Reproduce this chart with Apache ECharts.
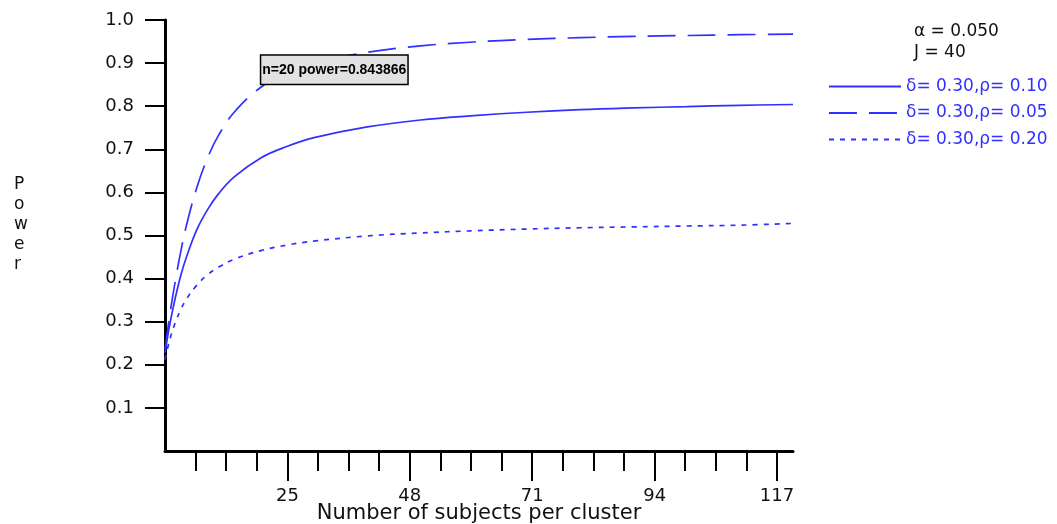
<!DOCTYPE html>
<html>
<head>
<meta charset="utf-8">
<title>Power vs number of subjects per cluster</title>
<script src="https://cdn.jsdelivr.net/npm/echarts@6/dist/echarts.min.js"></script>
<style>
  html, body { margin: 0; padding: 0; background: #fff; }
  #main { width: 1057px; height: 524px; }
</style>
</head>
<body>
<div id="main"></div>
<script>
// subjects per cluster (n)
var clusterSize = [2, 3, 4, 5, 6, 8, 10, 12, 15, 20, 25, 30, 40, 50, 60, 70, 80, 90, 100, 110, 120];
// power
var powerRho10 = [0.228, 0.300, 0.359, 0.409, 0.449, 0.514, 0.560, 0.596, 0.636, 0.680, 0.707, 0.727, 0.752, 0.768, 0.778, 0.786, 0.792, 0.796, 0.799, 0.802, 0.804];
var powerRho05 = [0.237, 0.324, 0.399, 0.465, 0.522, 0.612, 0.680, 0.731, 0.786, 0.844, 0.879, 0.900, 0.925, 0.940, 0.949, 0.955, 0.959, 0.962, 0.964, 0.966, 0.967];
var powerRho20 = [0.212, 0.263, 0.300, 0.329, 0.352, 0.385, 0.409, 0.426, 0.445, 0.465, 0.478, 0.487, 0.499, 0.506, 0.511, 0.515, 0.518, 0.520, 0.522, 0.524, 0.528];

var seriesNames = ['δ= 0.30,ρ= 0.10', 'δ= 0.30,ρ= 0.05', 'δ= 0.30,ρ= 0.20'];

// axis ticks
var xMajorTicks = [25, 48, 71, 94, 117];
var xMinorTicks = [7.75, 13.5, 19.25, 30.75, 36.5, 42.25, 53.75, 59.5, 65.25, 76.75, 82.5, 88.25, 99.75, 105.5, 111.25];
var yTicks = [0.1, 0.2, 0.3, 0.4, 0.5, 0.6, 0.7, 0.8, 0.9, 1.0];

var annotN = 20, annotPower = 0.843866;

var blue = '#3030ff';
var font = 'DejaVu Sans';

function pairs(ys) {
  var out = [];
  for (var i = 0; i < clusterSize.length; i++) out.push([clusterSize[i], ys[i]]);
  return out;
}

var chart = echarts.init(document.getElementById('main'));

var option = {
  backgroundColor: '#fff',
  animation: false,
  grid: { left: 165, top: 20, width: 628, height: 431, containLabel: false, outerBoundsMode: 'none' },
  legend: {
    data: seriesNames,
    orient: 'vertical',
    left: 828,
    top: 78,
    padding: 0,
    itemWidth: 72,
    itemHeight: 16,
    itemGap: 9.5,
    itemStyle: { color: 'rgba(0,0,0,0)', borderWidth: 0 },
    textStyle: { color: blue, fontFamily: font, fontSize: 17 }
  },
  xAxis: [{
    type: 'value',
    min: 2,
    max: 120,
    position: 'bottom',
    name: 'Number of subjects per cluster',
    nameLocation: 'middle',
    nameGap: 52,
    nameMoveOverlap: false,
    nameTextStyle: { color: '#111', fontFamily: font, fontSize: 21 },
    splitLine: { show: false },
    axisLine: { lineStyle: { color: '#000', width: 3 } },
    axisTick: { customValues: xMajorTicks, length: 30, lineStyle: { color: '#000', width: 2 } },
    axisLabel: { customValues: xMajorTicks, margin: 36, color: '#111', fontFamily: font, fontSize: 18 }
  }, {
    // minor ticks only
    type: 'value',
    min: 2,
    max: 120,
    position: 'bottom',
    splitLine: { show: false },
    axisLine: { show: false },
    axisTick: { customValues: xMinorTicks, length: 20, lineStyle: { color: '#000', width: 2 } },
    axisLabel: { show: false }
  }],
  yAxis: {
    type: 'value',
    min: 0,
    max: 1,
    splitLine: { show: false },
    axisLine: { show: true, lineStyle: { color: '#000', width: 3 } },
    axisTick: { show: true, customValues: yTicks, length: 20, lineStyle: { color: '#000', width: 2 } },
    axisLabel: {
      customValues: yTicks, margin: 31, color: '#111', fontFamily: font, fontSize: 18,
      formatter: function (v) { return v.toFixed(1); }
    }
  },
  graphic: [{
    type: 'text',
    left: 14,
    top: 175,
    style: { text: 'P\no\nw\ne\nr', fontFamily: font, fontSize: 17, lineHeight: 20, fill: '#111', align: 'center' }
  }, {
    type: 'text',
    left: 914,
    top: 21,
    style: { text: 'α = 0.050\nJ = 40', fontFamily: font, fontSize: 17, lineHeight: 21, fill: '#111' }
  }],
  series: [{
    name: seriesNames[0],
    type: 'line',
    data: pairs(powerRho10),
    smooth: 0.4,
    symbol: 'none',
    lineStyle: { color: blue, width: 1.7, type: 'solid' },
    itemStyle: { color: blue }
  }, {
    name: seriesNames[1],
    type: 'line',
    data: pairs(powerRho05),
    smooth: 0.4,
    symbol: 'none',
    lineStyle: { color: blue, width: 1.7, type: [28, 12] },
    itemStyle: { color: blue },
    markPoint: {
      symbol: 'rect',
      symbolSize: 1,
      itemStyle: { color: 'rgba(0,0,0,0)' },
      label: {
        show: true,
        position: [1, -31],
        formatter: 'n=' + annotN + ' power=' + annotPower,
        fontFamily: 'Liberation Sans',
        fontWeight: 'bold',
        fontSize: 14,
        lineHeight: 16,
        color: '#000',
        backgroundColor: '#e2e2e2',
        borderColor: '#000',
        borderWidth: 1.5,
        padding: [6, 1]
      },
      data: [{ coord: [annotN, annotPower] }]
    }
  }, {
    name: seriesNames[2],
    type: 'line',
    data: pairs(powerRho20),
    smooth: 0.4,
    symbol: 'none',
    lineStyle: { color: blue, width: 1.7, type: [5, 6] },
    itemStyle: { color: blue }
  }]
};

chart.setOption(option);
</script>
</body>
</html>
